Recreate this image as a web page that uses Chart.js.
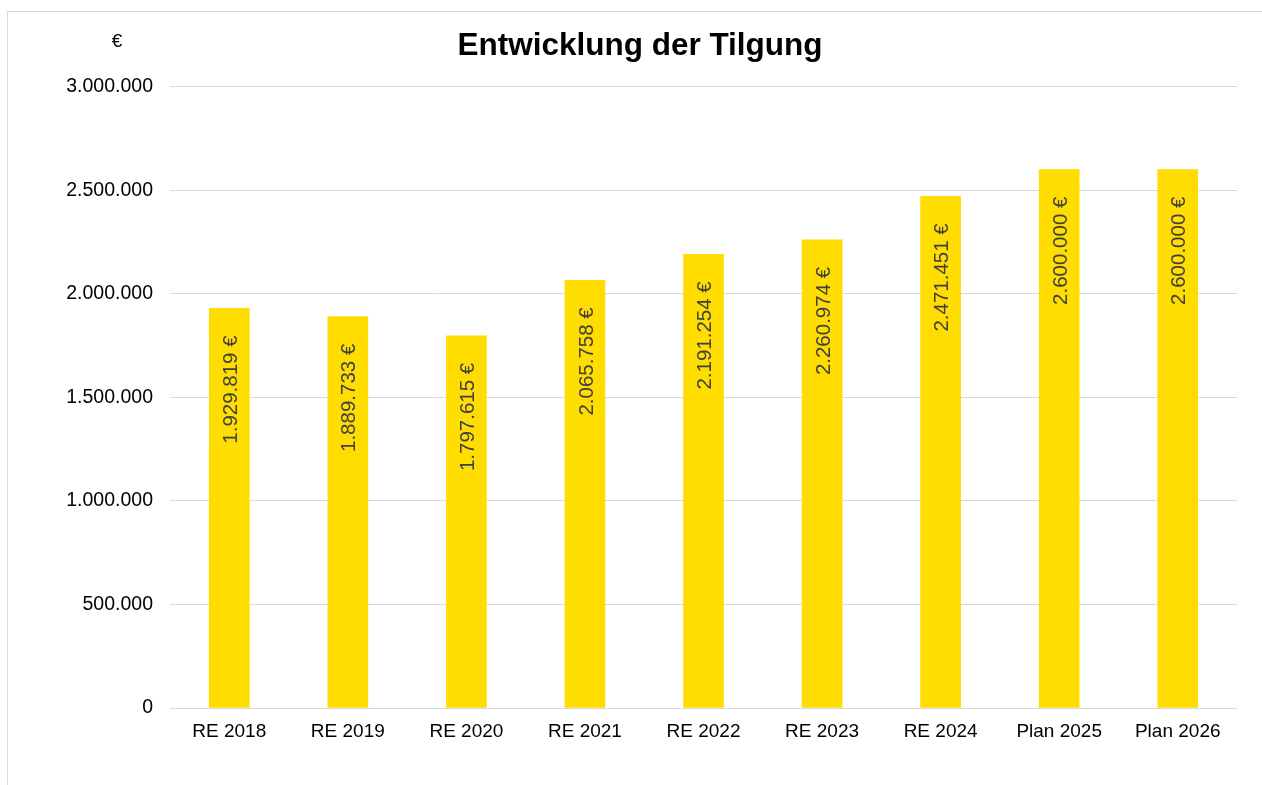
<!DOCTYPE html>
<html>
<head>
    <title>Entwicklung der Tilgung</title>
    <script src="https://cdn.jsdelivr.net/npm/chart.js"></script>
    <style>
        body { margin: 0; background: #fff; overflow: hidden; }
        .frame { position: absolute; left: 7px; top: 11px; width: 1300px; height: 800px; border: 1px solid #d9d9d9; }
        .wrapper { position: absolute; left: 0; top: 0; width: 1262px; height: 785px; }
    </style>
</head>
<body>
    <div class="frame"></div>
    <div class="wrapper"><canvas id="tilgungChart"></canvas></div>

    <script>
        // Daten
        const jahre = ['RE 2018', 'RE 2019', 'RE 2020', 'RE 2021', 'RE 2022', 'RE 2023', 'RE 2024', 'Plan 2025', 'Plan 2026'];
        const tilgung = [1929819, 1889733, 1797615, 2065758, 2191254, 2260974, 2471451, 2600000, 2600000];

        const fontFamily = '"Liberation Sans", Arial, sans-serif';

        function punkte(v) {
            return String(Math.round(v)).replace(/\B(?=(\d{3})+(?!\d))/g, '.');
        }

        // Werte senkrecht in die Balken schreiben
        const wertLabels = {
            id: 'wertLabels',
            afterDatasetsDraw(chart) {
                const ctx = chart.ctx;
                const meta = chart.getDatasetMeta(0);
                ctx.save();
                ctx.font = '20.5px ' + fontFamily;
                ctx.fillStyle = '#404040';
                ctx.textAlign = 'right';
                ctx.textBaseline = 'middle';
                meta.data.forEach((bar, i) => {
                    ctx.save();
                    ctx.translate(bar.x + 2, bar.y + 27);
                    ctx.rotate(-Math.PI / 2);
                    ctx.fillText(punkte(tilgung[i]) + ' €', 0, 0);
                    ctx.restore();
                });
                // Einheit oben links
                ctx.font = '19px ' + fontFamily;
                ctx.fillStyle = '#000';
                ctx.textAlign = 'center';
                ctx.fillText('€', 117, 42);
                ctx.restore();
            }
        };

        const ctx = document.getElementById('tilgungChart').getContext('2d');
        const chart = new Chart(ctx, {
            type: 'bar',
            data: {
                labels: jahre,
                datasets: [{
                    label: 'Tilgung',
                    data: tilgung,
                    backgroundColor: '#ffdd00',
                    borderWidth: 0,
                    barThickness: 40
                }]
            },
            options: {
                responsive: true,
                maintainAspectRatio: false,
                animation: false,
                layout: { padding: { top: 12, right: 25, bottom: 0, left: 43 } },
                plugins: {
                    legend: { display: false },
                    tooltip: { enabled: false },
                    title: {
                        display: true,
                        text: 'Entwicklung der Tilgung',
                        color: '#000',
                        font: { family: fontFamily, size: 31.5, weight: 'bold' },
                        padding: { top: 15, bottom: 22 }
                    }
                },
                scales: {
                    x: {
                        grid: { display: false, drawTicks: false },
                        border: { display: false },
                        ticks: {
                            color: '#000',
                            font: { family: fontFamily, size: 19 },
                            padding: 12,
                            maxRotation: 0
                        },
                        afterFit: s => { s.height = 77; }
                    },
                    y: {
                        min: 0,
                        max: 3000000,
                        grid: { color: '#d9d9d9', drawTicks: false },
                        border: { display: false },
                        ticks: {
                            stepSize: 500000,
                            color: '#000',
                            font: { family: fontFamily, size: 19.5 },
                            padding: 17,
                            callback: v => punkte(v)
                        },
                        afterFit: s => { s.width = 127; }
                    }
                }
            },
            plugins: [wertLabels]
        });
    </script>
</body>
</html>
